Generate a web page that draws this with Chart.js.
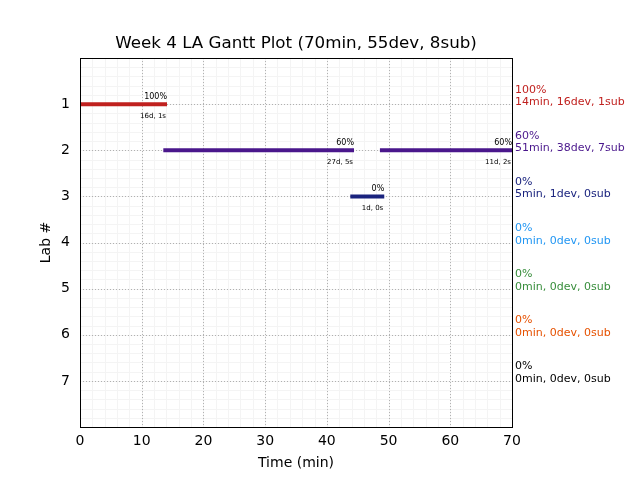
<!DOCTYPE html>
<html>
<head>
<meta charset="utf-8">
<script src="https://cdn.jsdelivr.net/npm/chart.js@4"></script>
<style>
  html, body { margin: 0; padding: 0; background: #fff; }
  #wrap { width: 640px; height: 480px; }
</style>
</head>
<body>
<div id="wrap"><canvas id="plot" width="640" height="480"></canvas></div>
<script>
const FONT = "'DejaVu Sans', sans-serif";

// one entry per lab row
const labs = [1, 2, 3, 4, 5, 6, 7];
const labColors = ['#c0211f', '#4a178c', '#1a237e', '#2196f3', '#388e3c', '#e65100', '#000000'];
const labPct = ['100%', '60%', '0%', '0%', '0%', '0%', '0%'];
const labSummary = ['14min, 16dev, 1sub', '51min, 38dev, 7sub', '5min, 1dev, 0sub',
    '0min, 0dev, 0sub', '0min, 0dev, 0sub', '0min, 0dev, 0sub', '0min, 0dev, 0sub'];

// one entry per gantt segment
const segLab = [1, 2, 2, 3];
const segStart = [0, 13.5, 48.6, 43.8];
const segEnd = [14.1, 44.4, 70, 49.3];
const segPct = ['100%', '60%', '60%', '0%'];
const segInfo = ['16d, 1s', '27d, 5s', '11d, 2s', '1d, 0s'];

const xTicks = [0, 10, 20, 30, 40, 50, 60, 70];

const datasets = segLab.map((lab, i) => ({
    label: 'Lab ' + lab,
    data: [{x: segStart[i], y: lab}, {x: segEnd[i], y: lab}],
    borderColor: labColors[lab - 1],
    borderWidth: 4,
    borderCapStyle: 'butt',
    pointRadius: 0,
    fill: false
}));

// grid, frame and text annotations
const ganttDecor = {
    id: 'ganttDecor',
    beforeDatasetsDraw(chart) {
        const {ctx, chartArea: a, scales: {x, y}} = chart;
        ctx.save();
        ctx.lineWidth = 1;
        // minor grid
        ctx.strokeStyle = '#f4f4f4';
        for (let v = 0; v <= 70; v += 2) {
            const px = Math.round(x.getPixelForValue(v)) + 0.5;
            ctx.beginPath(); ctx.moveTo(px, a.top); ctx.lineTo(px, a.bottom); ctx.stroke();
        }
        for (let v = 0; v <= 8.001; v += 0.2) {
            const py = Math.round(y.getPixelForValue(v)) + 0.5;
            ctx.beginPath(); ctx.moveTo(a.left, py); ctx.lineTo(a.right, py); ctx.stroke();
        }
        // major grid
        ctx.strokeStyle = '#b0b0b0';
        ctx.setLineDash([1, 2]);
        xTicks.forEach(v => {
            const px = Math.round(x.getPixelForValue(v)) + 0.5;
            ctx.beginPath(); ctx.moveTo(px, a.top); ctx.lineTo(px, a.bottom); ctx.stroke();
        });
        labs.forEach(v => {
            const py = Math.round(y.getPixelForValue(v)) + 0.5;
            ctx.beginPath(); ctx.moveTo(a.left, py); ctx.lineTo(a.right, py); ctx.stroke();
        });
        ctx.restore();
    },
    afterDatasetsDraw(chart) {
        const {ctx, chartArea: a, scales: {x, y}} = chart;
        ctx.save();
        // segment labels
        ctx.fillStyle = '#000';
        ctx.textAlign = 'right';
        ctx.textBaseline = 'alphabetic';
        segLab.forEach((lab, i) => {
            const px = x.getPixelForValue(segEnd[i]);
            const py = y.getPixelForValue(lab);
            ctx.font = '8px ' + FONT;
            ctx.fillText(segPct[i], px, py - 5);
            ctx.font = '7px ' + FONT;
            ctx.fillText(segInfo[i], px - 1, py + 14);
        });
        // frame
        ctx.strokeStyle = '#000';
        ctx.lineWidth = 1;
        ctx.strokeRect(Math.round(a.left) + 0.5, Math.round(a.top) + 0.5,
            Math.round(a.right - a.left), Math.round(a.bottom - a.top));
        // summaries to the right
        ctx.textAlign = 'left';
        ctx.font = '11px ' + FONT;
        labs.forEach((lab, i) => {
            const py = y.getPixelForValue(lab);
            ctx.fillStyle = labColors[i];
            ctx.fillText(labPct[i], a.right + 3, py - 11.5);
            ctx.fillText(labSummary[i], a.right + 3, py + 1);
        });
        ctx.restore();
    }
};

const config = {
    type: 'line',
    data: {datasets: datasets},
    options: {
        responsive: false,
        animation: false,
        layout: {padding: {left: 0, right: 128, top: 0, bottom: 0}},
        plugins: {
            legend: {display: false},
            tooltip: {enabled: false},
            title: {
                display: true,
                text: 'Week 4 LA Gantt Plot (70min, 55dev, 8sub)',
                color: '#000',
                fullSize: false,
                font: {family: FONT, size: 16.7, weight: 'normal'},
                padding: {top: 34, bottom: 4}
            }
        },
        scales: {
            x: {
                type: 'linear',
                min: 0,
                max: 70,
                grid: {display: false, drawTicks: false},
                border: {display: false},
                afterFit: s => { s.height = 53; },
                afterBuildTicks: s => { s.ticks = xTicks.map(v => ({value: v})); },
                ticks: {
                    color: '#000',
                    padding: 6,
                    maxRotation: 0,
                    font: {family: FONT, size: 14}
                },
                title: {
                    display: true,
                    text: 'Time (min)',
                    color: '#000',
                    font: {family: FONT, size: 14},
                    padding: {top: 0, bottom: 8}
                }
            },
            y: {
                type: 'linear',
                reverse: true,
                min: 0,
                max: 8,
                grid: {display: false, drawTicks: false},
                border: {display: false},
                afterFit: s => { s.width = 80; },
                afterBuildTicks: s => { s.ticks = labs.map(v => ({value: v})); },
                ticks: {
                    color: '#000',
                    padding: 10,
                    font: {family: FONT, size: 14}
                },
                title: {
                    display: true,
                    text: 'Lab #',
                    color: '#000',
                    font: {family: FONT, size: 14},
                    padding: {top: 38, bottom: 0}
                }
            }
        }
    },
    plugins: [ganttDecor]
};

const ctx = document.getElementById('plot').getContext('2d');
const myChart = new Chart(ctx, config);
</script>
</body>
</html>
